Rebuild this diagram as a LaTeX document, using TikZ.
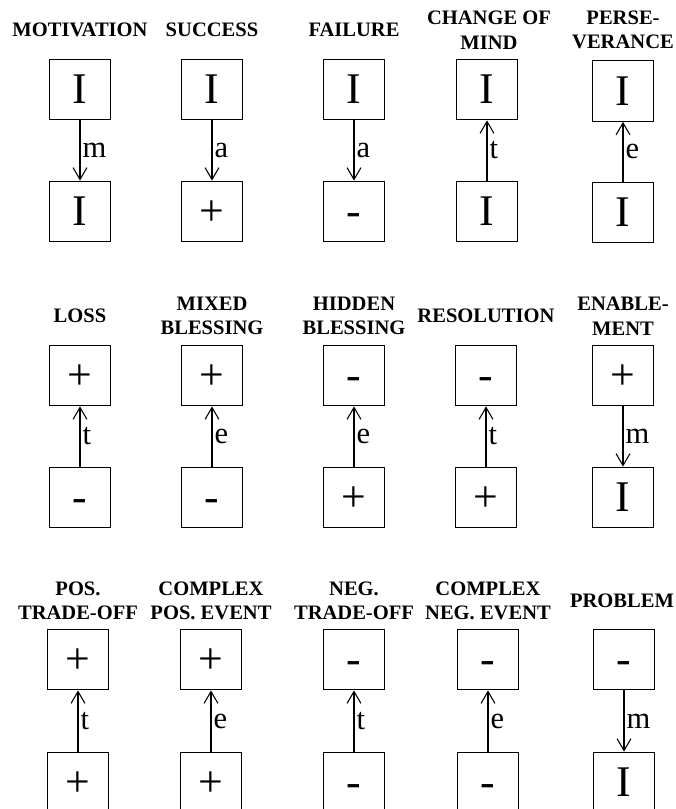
\documentclass[tikz,border=0pt]{standalone}
\usepackage{fontspec}
\setmainfont{Liberation Serif}
\usetikzlibrary{arrows.meta}

\begin{document}
\begin{tikzpicture}[
  x=0.0265cm, y=-0.0265cm,
  >={Straight Barb[length=9pt,width=10.5pt]},
  state/.style={
    draw=black,
    line width=0.8pt,
    minimum width=1.61cm,
    minimum height=1.61cm,
    inner sep=0pt,
    text height=21.8pt,
    text depth=0pt,
    font=\fontsize{33}{33}\selectfont
  },
  header/.style={font=\bfseries\fontsize{15.5}{18.5}\selectfont, align=center},
  link/.style={->, line width=0.8pt, draw=black},
  tag/.style={font=\fontsize{23}{23}\selectfont, anchor=west, inner sep=1pt, xshift=0.5pt}
]

\useasboundingbox (0,0) rectangle (675,809);
\clip (0,0) rectangle (675,809);

% row 1
\node[header] (motH) at (80,30) {MOTIVATION};
\node[state] (motT) at (80,89.5) {I};
\node[state] (motB) at (80,211.5) {I};
\draw[link] (motT.south) -- node[tag] {m} (motB.north);

\node[header] (sucH) at (212,30) {SUCCESS};
\node[state] (sucT) at (212,89.5) {I};
\node[state] (sucB) at (212,211.5) {+};
\draw[link] (sucT.south) -- node[tag] {a} (sucB.north);

\node[header] (faiH) at (354,30) {FAILURE};
\node[state] (faiT) at (354,89.5) {I};
\node[state] (faiB) at (354,211.5) {-};
\draw[link] (faiT.south) -- node[tag] {a} (faiB.north);

\node[header] (chaH) at (489,30) {CHANGE OF\\MIND};
\node[state] (chaT) at (487,89.5) {I};
\node[state] (chaB) at (487,211.5) {I};
\draw[link] (chaB.north) -- node[tag] {t} (chaT.south);

\node[header] (perH) at (623,30) {PERSE-\\VERANCE};
\node[state] (perT) at (623,91) {I};
\node[state] (perB) at (623,212.5) {I};
\draw[link] (perB.north) -- node[tag] {e} (perT.south);

% row 2
\node[header] (losH) at (80,316) {LOSS};
\node[state] (losT) at (80,375.5) {+};
\node[state] (losB) at (80,497.5) {-};
\draw[link] (losB.north) -- node[tag] {t} (losT.south);

\node[header] (mixH) at (212,316) {MIXED\\BLESSING};
\node[state] (mixT) at (212,375.5) {+};
\node[state] (mixB) at (212,497.5) {-};
\draw[link] (mixB.north) -- node[tag] {e} (mixT.south);

\node[header] (hidH) at (354,316) {HIDDEN\\BLESSING};
\node[state] (hidT) at (354,375.5) {-};
\node[state] (hidB) at (354,497.5) {+};
\draw[link] (hidB.north) -- node[tag] {e} (hidT.south);

\node[header] (resH) at (486,316) {RESOLUTION};
\node[state] (resT) at (486,375.5) {-};
\node[state] (resB) at (486,497.5) {+};
\draw[link] (resB.north) -- node[tag] {t} (resT.south);

\node[header] (enaH) at (623,316) {ENABLE-\\MENT};
\node[state] (enaT) at (623,375.5) {+};
\node[state] (enaB) at (623,497.5) {I};
\draw[link] (enaT.south) -- node[tag] {m} (enaB.north);

% row 3
\node[header] (ptoH) at (78,601) {POS.\\TRADE-OFF};
\node[state] (ptoT) at (78,659.5) {+};
\node[state] (ptoB) at (78,782.5) {+};
\draw[link] (ptoB.north) -- node[tag] {t} (ptoT.south);

\node[header] (cpeH) at (211,601) {COMPLEX\\POS. EVENT};
\node[state] (cpeT) at (211,659.5) {+};
\node[state] (cpeB) at (211,782.5) {+};
\draw[link] (cpeB.north) -- node[tag] {e} (cpeT.south);

\node[header] (ntoH) at (354,601) {NEG.\\TRADE-OFF};
\node[state] (ntoT) at (354,659.5) {-};
\node[state] (ntoB) at (354,782.5) {-};
\draw[link] (ntoB.north) -- node[tag] {t} (ntoT.south);

\node[header] (cneH) at (488,601) {COMPLEX\\NEG. EVENT};
\node[state] (cneT) at (488,659.5) {-};
\node[state] (cneB) at (488,782.5) {-};
\draw[link] (cneB.north) -- node[tag] {e} (cneT.south);

\node[header] (proH) at (622,601) {PROBLEM};
\node[state] (proT) at (624,659.5) {-};
\node[state] (proB) at (624,782.5) {I};
\draw[link] (proT.south) -- node[tag] {m} (proB.north);

\end{tikzpicture}
\end{document}
